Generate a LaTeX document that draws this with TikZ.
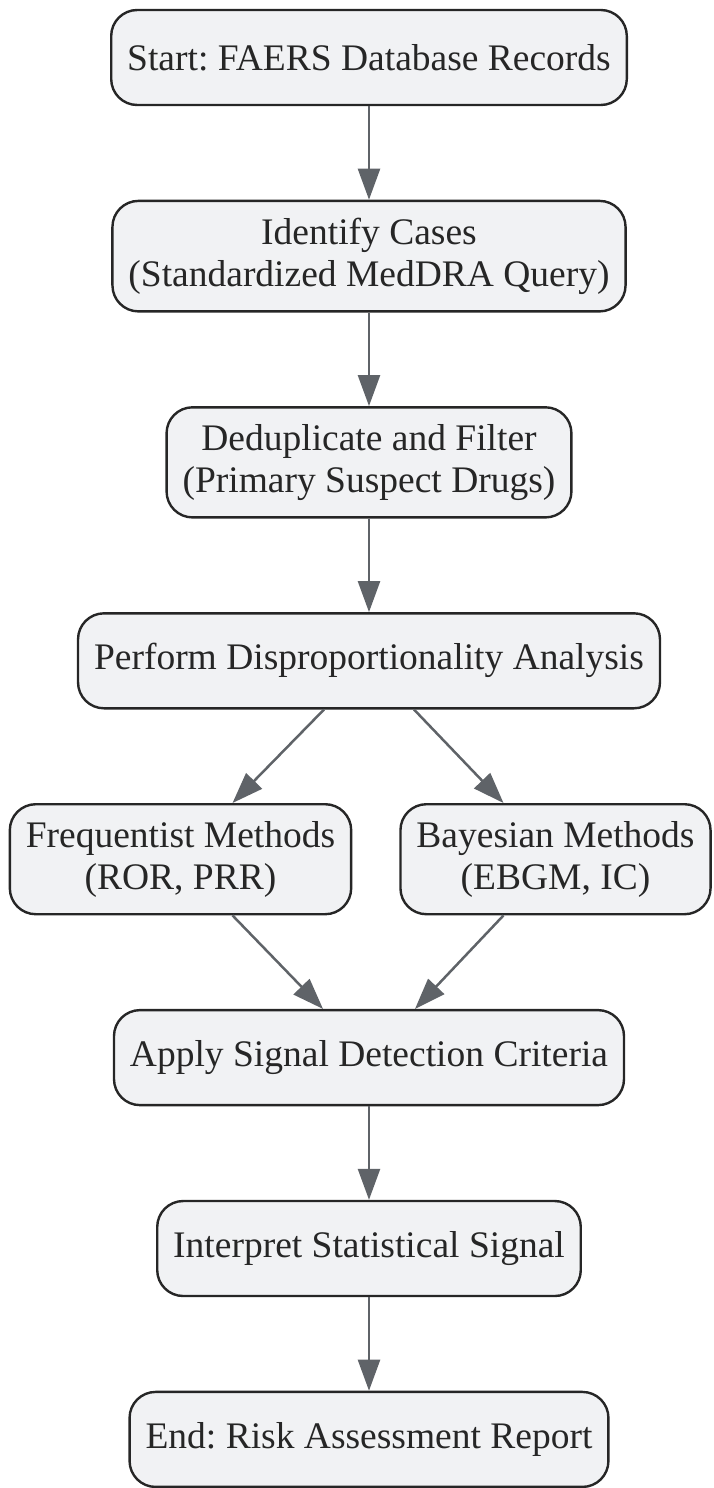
\documentclass[tikz,border=0pt]{standalone}
\usepackage{fontspec}
\setmainfont{Liberation Serif}
\usetikzlibrary{arrows.meta,positioning}
\frenchspacing

\definecolor{boxfill}{HTML}{F1F2F4}
\definecolor{boxline}{HTML}{262626}
\definecolor{arrowgray}{HTML}{5F6368}

\tikzset{
  stepbox/.style={draw=boxline, fill=boxfill, line width=2.4pt, rounded corners=26pt,
    align=center, inner xsep=16pt, inner ysep=17pt, minimum height=95pt,
    font=\fontsize{37.5}{42}\selectfont, text=boxline},
  flow/.style={draw=arrowgray, line width=2.5pt}
}

\begin{document}
\begin{tikzpicture}[auto, node distance=93.5pt, >={Triangle[length=31pt,width=22pt]}]

        \useasboundingbox (0,0) rectangle (713pt,-1488pt);

        % Nodes
        \node [stepbox] (start) at (369pt,-57.5pt) {Start: FAERS Database Records};
        \node [stepbox, below=of start] (identify) {Identify Cases\\(Standardized MedDRA Query)};
        \node [stepbox, below=of identify] (dedup) {Deduplicate and Filter\\(Primary Suspect Drugs)};
        \node [stepbox, below=of dedup] (perform) {Perform Disproportionality Analysis};
        \node [stepbox, below=of perform, xshift=-188.5pt] (freq) {Frequentist Methods\\(ROR, PRR)};
        \node [stepbox, below=of perform, xshift=186.5pt] (bayes) {Bayesian Methods\\(EBGM, IC)};
        \node [stepbox, below=of freq, xshift=188.5pt] (apply) {Apply Signal Detection Criteria};
        \node [stepbox, below=of apply] (interpret) {Interpret Statistical Signal};
        \node [stepbox, below=of interpret] (end) {End: Risk Assessment Report};

        % Connections
        \draw [flow, ->] (start) -- (identify);
        \draw [flow, ->] (identify) -- (dedup);
        \draw [flow, ->] (dedup) -- (perform);
        \draw [flow, ->] ([xshift=-45pt]perform.south) -- ([xshift=52pt]freq.north);
        \draw [flow, ->] ([xshift=45pt]perform.south) -- ([xshift=-52pt]bayes.north);
        \draw [flow, ->] ([xshift=52pt]freq.south) -- ([xshift=-46pt]apply.north);
        \draw [flow, ->] ([xshift=-52pt]bayes.south) -- ([xshift=46pt]apply.north);
        \draw [flow, ->] (apply) -- (interpret);
        \draw [flow, ->] (interpret) -- (end);

    \end{tikzpicture}
\end{document}
